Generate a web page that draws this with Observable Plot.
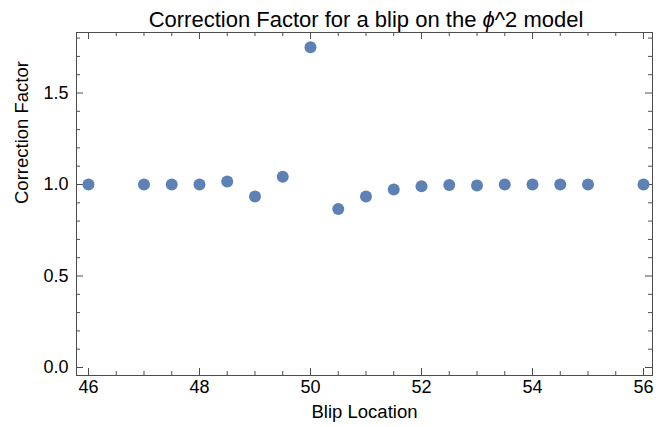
<!DOCTYPE html>
<html>
<head>
<meta charset="utf-8">
<script src="https://cdn.jsdelivr.net/npm/d3@7"></script>
<script src="https://cdn.jsdelivr.net/npm/@observablehq/plot@0.6"></script>
<style>
  html, body { margin: 0; padding: 0; background: #fff; }
  #title { width: 668px; height: 30px; box-sizing: border-box; padding-left: 78px; padding-right: 14px;
           text-align: center; font-family: "Liberation Sans", Arial, sans-serif; font-size: 22px;
           line-height: 39px; color: #000; overflow: visible; white-space: nowrap; }
  svg { display: block; }
</style>
</head>
<body>
<div id="title">Correction Factor for a blip on the <i>ϕ</i>^2 model</div>
<div id="chart"></div>
<script>
// Data
const blipLocation = [46, 47, 47.5, 48, 48.5, 49, 49.5, 50, 50.5, 51, 51.5, 52, 52.5, 53, 53.5, 54, 54.5, 55, 56];
const correctionFactor = [1.0, 1.0, 1.0, 1.0, 1.016, 0.935, 1.042, 1.75, 0.866, 0.935, 0.973, 0.991, 0.997, 0.995, 1.0, 1.0, 1.0, 1.0, 1.0];

// Tick labels / positions
const xMajorTicks = [46, 48, 50, 52, 54, 56];
const xMinorTicks = [46.5, 47, 47.5, 48.5, 49, 49.5, 50.5, 51, 51.5, 52.5, 53, 53.5, 54.5, 55, 55.5];
const yMajorTicks = [0, 0.5, 1.0, 1.5];
const yMinorTicks = [0.1, 0.2, 0.3, 0.4, 0.6, 0.7, 0.8, 0.9, 1.1, 1.2, 1.3, 1.4, 1.6, 1.7, 1.8];

const data = blipLocation.map((x, i) => ({x, y: correctionFactor[i]}));

const W = 668, H = 397, mL = 76, mR = 16, mT = 2, mB = 52;
const fw = W - mL - mR, fh = H - mT - mB;
const tickColor = "#4d4d4d";
const font = "Liberation Sans, Arial, sans-serif";

const chart = Plot.plot({
  width: W, height: H,
  marginLeft: mL, marginRight: mR, marginTop: mT, marginBottom: mB,
  style: {fontFamily: font, fontSize: "18px", color: "#000", background: "#fff"},
  x: {domain: [45.784, 56.162]},
  y: {domain: [-0.0437, 1.8306]},
  marks: [
    Plot.frame({stroke: tickColor, strokeWidth: 1}),
    // bottom ticks (inward)
    Plot.tickX(xMajorTicks, {x: d => d, insetTop: fh - 7, stroke: tickColor}),
    Plot.tickX(xMinorTicks, {x: d => d, insetTop: fh - 4, stroke: tickColor}),
    // top ticks
    Plot.tickX(xMajorTicks, {x: d => d, insetBottom: fh - 7, stroke: tickColor}),
    Plot.tickX(xMinorTicks, {x: d => d, insetBottom: fh - 4, stroke: tickColor}),
    // left ticks
    Plot.tickY(yMajorTicks, {y: d => d, insetRight: fw - 7, stroke: tickColor}),
    Plot.tickY(yMinorTicks, {y: d => d, insetRight: fw - 4, stroke: tickColor}),
    // right ticks
    Plot.tickY(yMajorTicks, {y: d => d, insetLeft: fw - 7, stroke: tickColor}),
    Plot.tickY(yMinorTicks, {y: d => d, insetLeft: fw - 4, stroke: tickColor}),
    Plot.axisX({anchor: "bottom", ticks: xMajorTicks, tickSize: 0, tickPadding: 5, label: null, fontSize: 18}),
    Plot.axisY({anchor: "left", ticks: yMajorTicks, tickSize: 0, tickPadding: 8, tickFormat: d3.format(".1f"), label: null, fontSize: 18}),
    Plot.text(["Blip Location"], {frameAnchor: "bottom", dy: 42, text: d => d, fontSize: 18.5}),
    Plot.text(["Correction Factor"], {frameAnchor: "left", dx: -54, rotate: -90, text: d => d, fontSize: 18.5}),
    Plot.dot(data, {x: "x", y: "y", r: 6, fill: "#5E81B5", stroke: "none"})
  ]
});
document.getElementById("chart").appendChild(chart);
</script>
</body>
</html>
